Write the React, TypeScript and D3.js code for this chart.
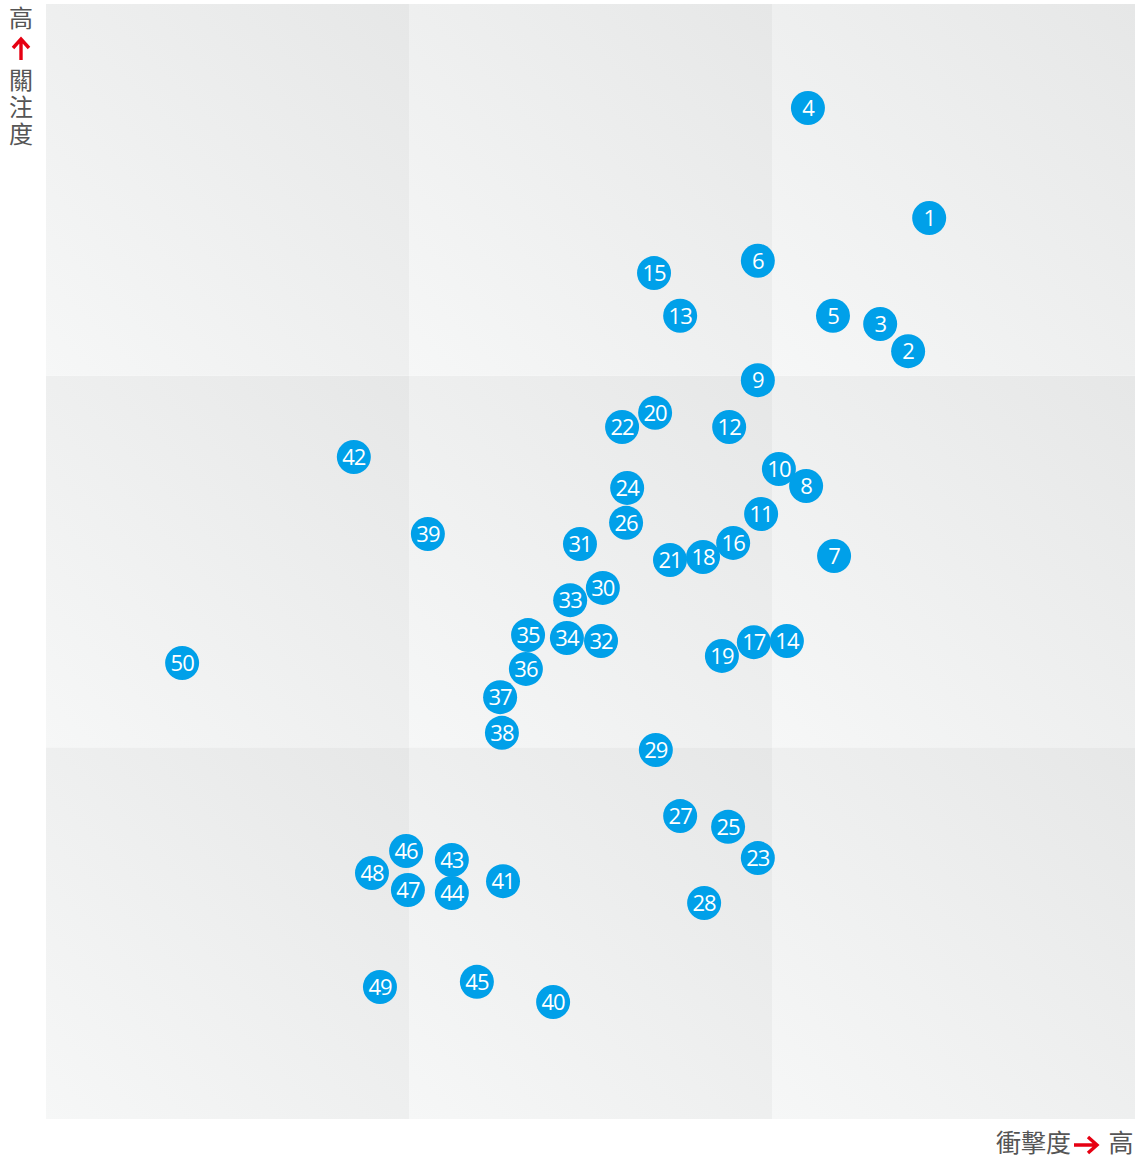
import React, { useEffect, useRef } from "react";
import * as d3 from "d3";

// impact (x) / attention (y), both 0..300, each third is one grid cell
const ids = [
  1, 2, 3, 4, 5, 6, 7, 8, 9, 10, 11, 12, 13, 14, 15, 16, 17, 18, 19, 20, 21, 22, 23, 24, 25,
  26, 27, 28, 29, 30, 31, 32, 33, 34, 35, 36, 37, 38, 39, 40, 41, 42, 43, 44, 45, 46, 47, 48, 49, 50,
];
const impact = [
  243.3, 237.5, 229.8, 209.9, 216.8, 196.1, 217.1, 209.4, 196.1, 201.9, 197.0, 188.2, 174.7, 204.1,
  167.5, 189.3, 195.0, 181.0, 186.2, 167.8, 171.9, 158.7, 196.1, 160.1, 187.9, 159.8, 174.7, 181.3,
  168.0, 153.4, 147.1, 152.9, 144.4, 143.5, 132.8, 132.2, 125.1, 125.6, 105.2, 139.7, 125.9, 84.8,
  111.8, 111.8, 118.7, 99.2, 99.7, 89.8, 92.0, 37.5,
];
const attention = [
  242.4, 206.6, 213.9, 272.0, 216.1, 230.9, 151.5, 170.3, 198.8, 174.9, 162.8, 186.2, 216.1, 128.6,
  227.6, 155.0, 128.3, 151.2, 124.6, 190.0, 150.4, 186.2, 70.2, 169.8, 78.6, 160.4, 81.5, 58.1,
  99.3, 142.9, 154.7, 128.6, 139.6, 129.4, 130.2, 121.1, 113.5, 103.9, 157.4, 31.5, 64.0, 178.1,
  69.7, 60.8, 36.9, 72.1, 61.6, 66.2, 35.5, 122.7,
];
const cellBreaks = [0, 100, 200];
const yLabel = ["高", "關", "注", "度"];
const xLabel = "衝擊度";
const xLabelEnd = "高";

export default function App() {
  const svgRef = useRef<SVGSVGElement>(null);

  useEffect(() => {
    const W = 1136;
    const H = 1159;
    const svg = d3.select(svgRef.current).attr("width", W).attr("height", H);
    svg.selectAll("*").remove();

    const x = d3.scaleLinear().domain([0, 300]).range([46, 1135]);
    const y = d3.scaleLinear().domain([0, 300]).range([1119, 4]);

    const defs = svg.append("defs");
    const grad = defs
      .append("linearGradient")
      .attr("id", "cellGrad")
      .attr("x1", 0)
      .attr("y1", 1)
      .attr("x2", 1)
      .attr("y2", 0);
    grad.append("stop").attr("offset", "0%").attr("stop-color", "#f6f7f7");
    grad.append("stop").attr("offset", "100%").attr("stop-color", "#e6e7e7");

    const cells: { cx: number; cy: number }[] = [];
    cellBreaks.forEach((cx) => cellBreaks.forEach((cy) => cells.push({ cx, cy })));

    svg
      .append("g")
      .selectAll("rect")
      .data(cells)
      .join("rect")
      .attr("x", (d) => x(d.cx))
      .attr("y", (d) => y(d.cy + 100))
      .attr("width", (d) => x(d.cx + 100) - x(d.cx))
      .attr("height", (d) => y(d.cy) - y(d.cy + 100))
      .attr("fill", "url(#cellGrad)");

    const pts = ids.map((id, i) => ({ id, vx: impact[i], vy: attention[i] }));
    const g = svg
      .append("g")
      .selectAll("g")
      .data(pts)
      .join("g")
      .attr("transform", (d) => `translate(${x(d.vx)},${y(d.vy)})`);
    g.append("circle").attr("r", 17).attr("fill", "#00a0e9");
    g.append("text")
      .attr("text-anchor", "middle")
      .attr("dy", "0.37em")
      .attr("fill", "#fff")
      .attr("font-family", "'Open Sans', sans-serif")
      .attr("font-size", 22)
      .attr("letter-spacing", -1)
      .text((d) => d.id);

    // axis labels
    const labelFont = "'Noto Sans CJK TC', sans-serif";
    const red = "#e60012";
    const yl = svg.append("g").attr("fill", "#555").attr("font-family", labelFont).attr("font-size", 24);
    const yPos = [19, 81, 108, 135];
    yLabel.forEach((t, i) => {
      yl.append("text")
        .attr("x", 21)
        .attr("y", yPos[i])
        .attr("dy", "0.35em")
        .attr("text-anchor", "middle")
        .text(t);
    });
    svg
      .append("path")
      .attr("d", "M21,60 L21,40 M13,48 L21,39 L29,48")
      .attr("stroke", red)
      .attr("stroke-width", 3.4)
      .attr("fill", "none");

    svg
      .append("text")
      .attr("x", 1071)
      .attr("y", 1143)
      .attr("dy", "0.35em")
      .attr("text-anchor", "end")
      .attr("fill", "#555")
      .attr("font-family", labelFont)
      .attr("font-size", 25)
      .text(xLabel);
    svg
      .append("path")
      .attr("d", "M1074,1145 L1096,1145 M1088,1137 L1097,1145 L1088,1153")
      .attr("stroke", red)
      .attr("stroke-width", 3.4)
      .attr("fill", "none");
    svg
      .append("text")
      .attr("x", 1121)
      .attr("y", 1143)
      .attr("dy", "0.35em")
      .attr("text-anchor", "middle")
      .attr("fill", "#555")
      .attr("font-family", labelFont)
      .attr("font-size", 25)
      .text(xLabelEnd);
  }, []);

  return (
    <div style={{ position: "absolute", left: 0, top: 0 }}>
      <svg ref={svgRef} style={{ display: "block" }} />
    </div>
  );
}
